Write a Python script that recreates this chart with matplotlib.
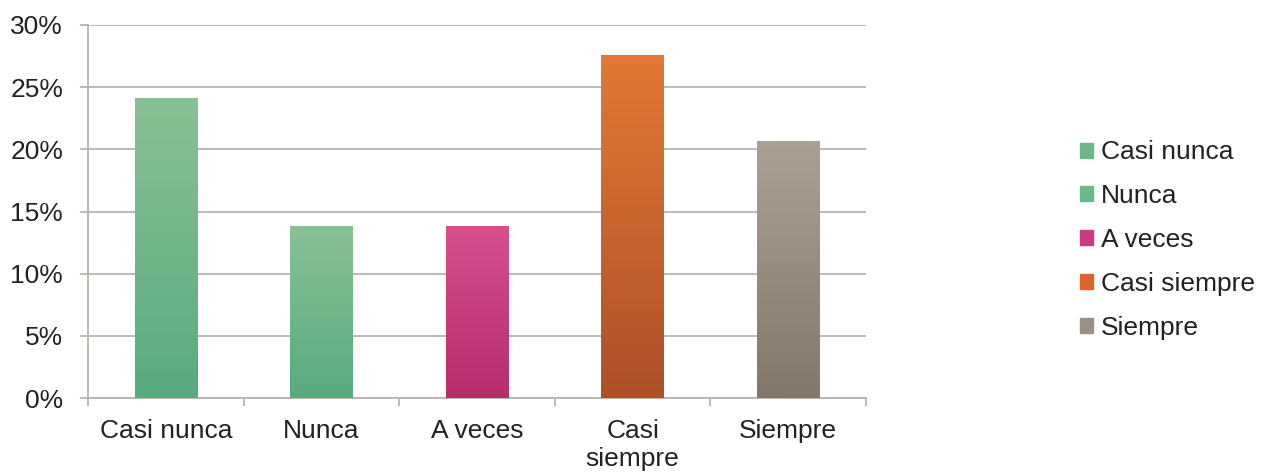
import numpy as np
import matplotlib.pyplot as plt
from matplotlib.colors import LinearSegmentedColormap
from matplotlib.ticker import PercentFormatter, FixedLocator

plt.rcParams['font.family'] = ['Liberation Sans', 'DejaVu Sans']

categorias = ['Casi nunca', 'Nunca', 'A veces', 'Casi\nsiempre', 'Siempre']
leyenda = ['Casi nunca', 'Nunca', 'A veces', 'Casi siempre', 'Siempre']
valores = [24.1, 13.8, 13.8, 27.6, 20.7]

# colores: arriba (claro), abajo (oscuro), leyenda
tono_arriba = ['#8ac096', '#8ac096', '#d6508e', '#e27836', '#aaa194']
tono_abajo = ['#58aa7f', '#58aa7f', '#b62d6c', '#ad5129', '#837869']
tono_leyenda = ['#6cb88a', '#6cb88a', '#cc3a85', '#d9662e', '#9a9085']

gris = '#b9b3ab'
texto = '#222222'

fig = plt.figure(figsize=(12.71, 4.72), dpi=100)
ax = fig.add_axes([88/1271, 1-398/472, (866-88)/1271, (398-25)/472])

x = np.arange(len(valores))
barras = ax.bar(x, valores, width=0.4, color=tono_leyenda, zorder=3)

# degradado vertical dentro de cada barra
for b, c1, c2 in zip(barras, tono_arriba, tono_abajo):
    cmap = LinearSegmentedColormap.from_list('g', [c2, c1])
    grad = np.linspace(0, 1, 256).reshape(-1, 1)
    im = ax.imshow(grad, cmap=cmap, aspect='auto', origin='lower',
                   extent=[b.get_x(), b.get_x() + b.get_width(), 0, b.get_height()],
                   zorder=4)
    im.set_clip_path(b)

ax.set_xlim(-0.5, len(valores) - 0.5)
ax.set_ylim(0, 30)
ax.yaxis.set_major_locator(FixedLocator([0, 5, 10, 15, 20, 25, 30]))
ax.yaxis.set_major_formatter(PercentFormatter(decimals=0))
ax.grid(axis='y', color=gris, linewidth=1.3, zorder=0)

ax.set_xticks(x)
ax.set_xticklabels(categorias, fontsize=19, color=texto, linespacing=1.2)
ax.set_xticks(np.arange(-0.5, len(valores)), minor=True)
ax.tick_params(axis='x', which='major', length=0, pad=15)
ax.tick_params(axis='x', which='minor', length=6, width=1.3, color=gris, direction='out')
ax.tick_params(axis='y', length=6, width=1.3, color=gris, pad=12, labelsize=19, labelcolor=texto)

for s in ['top', 'right']:
    ax.spines[s].set_visible(False)
for s in ['left', 'bottom']:
    ax.spines[s].set_color(gris)
    ax.spines[s].set_linewidth(1.3)

handles = [plt.Rectangle((0, 0), 1, 1, color=c) for c in tono_leyenda]
fig.legend(handles, leyenda, loc='center left', bbox_to_anchor=(1056/1271, 1 - 240/472),
           frameon=False, fontsize=19, handlelength=0.5, handleheight=0.5,
           handletextpad=0.3, labelspacing=0.75, labelcolor=texto)

plt.savefig('out.png', dpi=100)
